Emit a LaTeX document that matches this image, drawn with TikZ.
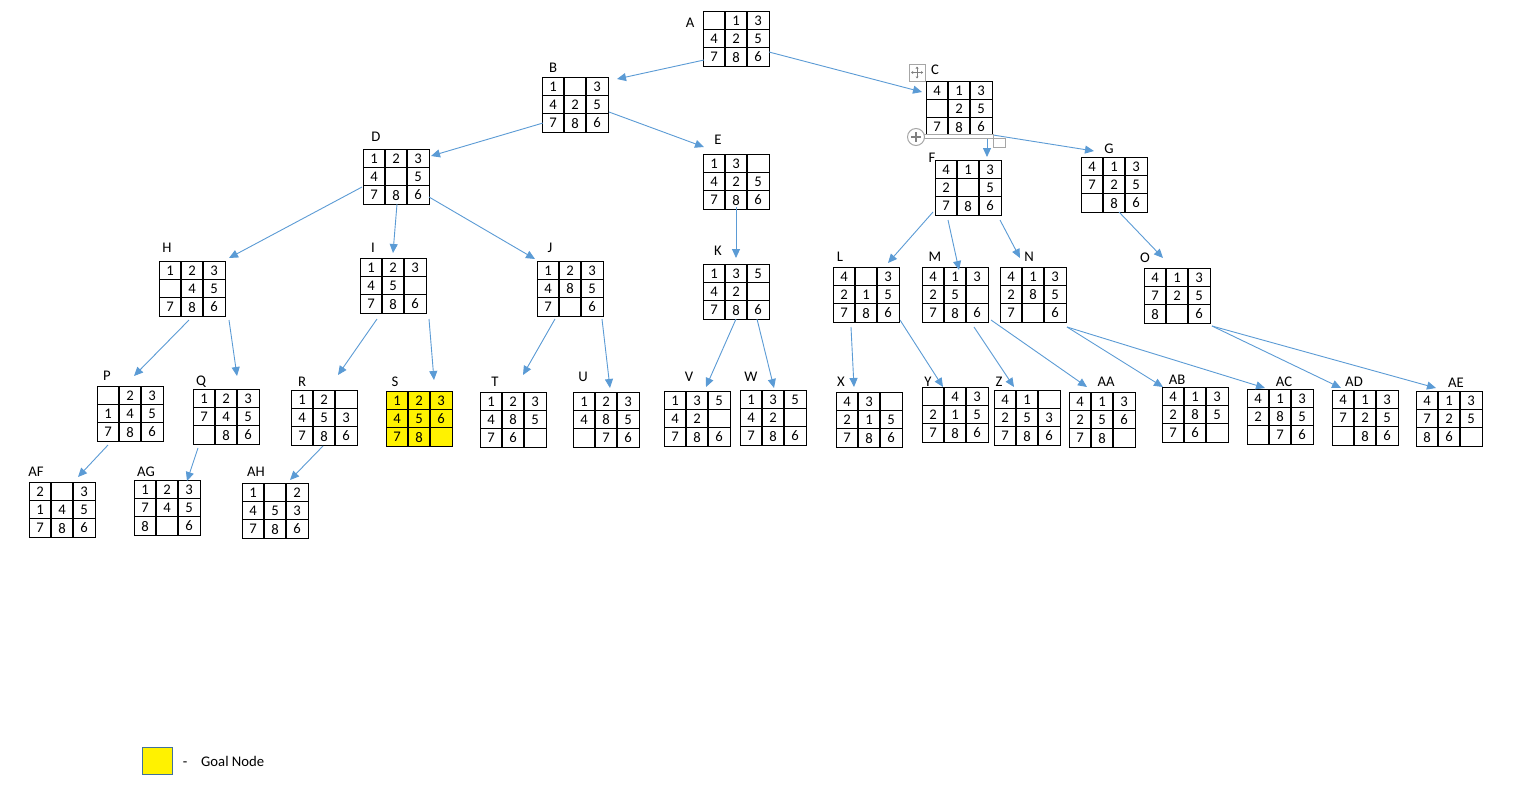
\documentclass[tikz,border=0pt]{standalone}
\usepackage{fontspec}
\setmainfont{Carlito}
\usetikzlibrary{calc,arrows.meta}
\definecolor{arrowblue}{HTML}{5B9BD5}
\definecolor{legborder}{HTML}{41719C}
\tikzset{
  puzbox/.style={draw=black, line width=1.1pt, anchor=north west, minimum width=66pt, minimum height=55pt, inner sep=0pt},
  gridl/.style={draw=black, line width=1.1pt},
  cell/.style={inner sep=0pt, font=\fontsize{14.7}{16}\selectfont},
  lab/.style={inner sep=0pt, font=\fontsize{14.7}{16}\selectfont},
  arrowl/.style={draw=arrowblue, line width=0.9pt, -{Triangle[length=9pt,width=8pt]}},
  uigray/.style={draw=gray!70, line width=1pt}
}
\newcommand\puz[7]{%
  \node[puzbox, fill=#5] (#1) at (#2,#3) {};
  \node[lab] (#1-lab) at (#6,#7) {#1};
  \foreach \v [count=\k from 0] in {#4} {
    \pgfmathtruncatemacro\cc{mod(\k,3)}
    \pgfmathtruncatemacro\rr{(\k-\cc)/3}
    \node[cell] (#1-c\k) at ($(#1.north west)+(11+22*\cc,9.4+18.33*\rr)$) {\v};
  }
  \draw[gridl] ($(#1.north west)+(22,0)$) -- ($(#1.south west)+(22,0)$);
  \draw[gridl] ($(#1.north west)+(44,0)$) -- ($(#1.south west)+(44,0)$);
  \draw[gridl] ($(#1.north west)+(0,18.33)$) -- ($(#1.north east)+(0,18.33)$);
  \draw[gridl] ($(#1.north west)+(0,36.67)$) -- ($(#1.north east)+(0,36.67)$);
}
\newcommand\arr[6]{\draw[arrowl] ($(#1.north west)+(#2,#3)$) -- ($(#4.north west)+(#5,#6)$);}
\begin{document}
\begin{tikzpicture}[x=1pt,y=-1pt]
\useasboundingbox[fill=white] (0,0) rectangle (1513,788);
% level 0-1
\puz{A}{703}{11}{{},1,3,4,2,5,7,8,6}{white}{690}{23}
\puz{B}{542}{77}{1,{},3,4,2,5,7,8,6}{white}{553}{68}
\puz{C}{926}{81}{4,1,3,{},2,5,7,8,6}{white}{935}{70}
% level 2
\puz{D}{363}{149}{1,2,3,4,{},5,7,8,6}{white}{376}{137}
\puz{E}{703}{154}{1,3,{},4,2,5,7,8,6}{white}{718}{140}
\puz{F}{935}{160}{4,1,3,2,{},5,7,8,6}{white}{932}{158}
\puz{G}{1081}{157}{4,1,3,7,2,5,{},8,6}{white}{1109}{149}
% level 3
\puz{H}{159}{261}{1,2,3,{},4,5,7,8,6}{white}{167}{248}
\puz{I}{360}{258}{1,2,3,4,5,{},7,8,6}{white}{373}{248}
\puz{J}{537}{261}{1,2,3,4,8,5,7,{},6}{white}{550}{248}
\puz{K}{703}{264}{1,3,5,4,2,{},7,8,6}{white}{718}{251}
\puz{L}{833}{267}{4,{},3,2,1,5,7,8,6}{white}{840}{257}
\puz{M}{922}{267}{4,1,3,2,5,{},7,8,6}{white}{935}{257}
\puz{N}{1000}{267}{4,1,3,2,8,5,7,{},6}{white}{1029}{257}
\puz{O}{1144}{268}{4,1,3,7,2,5,8,{},6}{white}{1145}{258}
% level 4
\puz{P}{97}{386}{{},2,3,1,4,5,7,8,6}{white}{107}{376}
\puz{Q}{193}{389}{1,2,3,7,4,5,{},8,6}{white}{201}{382}
\puz{R}{291}{390}{1,2,{},4,5,3,7,8,6}{white}{302}{382}
\puz{S}{386}{391}{1,2,3,4,5,6,7,8,{}}{yellow}{395}{382}
\puz{T}{480}{392}{1,2,3,4,8,5,7,6,{}}{white}{495}{382}
\puz{U}{573}{392}{1,2,3,4,8,5,{},7,6}{white}{583}{377}
\puz{V}{664}{391}{1,3,5,4,2,{},7,8,6}{white}{689}{377}
\puz{W}{740}{390}{1,3,5,4,2,{},7,8,6}{white}{751}{377}
\puz{X}{836}{392}{4,3,{},2,1,5,7,8,6}{white}{841}{382}
\puz{Y}{922}{387}{{},4,3,2,1,5,7,8,6}{white}{928}{382}
\puz{Z}{994}{390}{4,1,{},2,5,3,7,8,6}{white}{999}{382}
\puz{AA}{1069}{392}{4,1,3,2,5,6,7,8,{}}{white}{1106}{382}
\puz{AB}{1162}{387}{4,1,3,2,8,5,7,6,{}}{white}{1177}{380}
\puz{AC}{1247}{389}{4,1,3,2,8,5,{},7,6}{white}{1284}{382}
\puz{AD}{1332}{390}{4,1,3,7,2,5,{},8,6}{white}{1354}{382}
\puz{AE}{1416}{391}{4,1,3,7,2,5,8,6,{}}{white}{1456}{383}
% level 5
\puz{AF}{29}{482}{2,{},3,1,4,5,7,8,6}{white}{36}{472}
\puz{AG}{134}{480}{1,2,3,7,4,5,8,{},6}{white}{146}{472}
\puz{AH}{242}{483}{1,{},2,4,5,3,7,8,6}{white}{256}{472}
% connectors
\arr{A}{1}{49}{B}{75}{2}
\arr{A}{66}{41}{C}{-4}{11}
\arr{B}{1}{46}{D}{68}{7}
\arr{B}{67}{35}{E}{1}{-7}
\arr{C}{61}{54}{F}{52}{-3}
\arr{C}{67}{54}{G}{13}{-6}
\arr{E}{33}{53}{K}{33}{-6}
\arr{D}{-1}{38}{H}{70}{-3}
\arr{D}{34}{55}{I}{33}{-5}
\arr{D}{66}{48}{J}{-2}{-2}
\arr{H}{30}{59}{P}{37}{-10}
\arr{H}{70}{59}{Q}{44}{-13}
\arr{I}{17}{61}{R}{47}{-15}
\arr{I}{69}{61}{S}{48}{-11}
\arr{J}{18}{58}{T}{43}{-17}
\arr{J}{65}{58}{U}{37}{-4}
\arr{P}{11}{59}{AF}{49}{-5}
\arr{Q}{5}{59}{AG}{53}{1}
\arr{R}{32}{56}{AH}{48}{-3}
\arr{K}{33}{55}{V}{42}{-4}
\arr{K}{54}{55}{W}{34}{-2}
\arr{F}{-2}{52}{L}{55}{-4}
\arr{F}{13}{60}{M}{37}{3}
\arr{F}{65}{60}{N}{20}{-9}
\arr{G}{38}{55}{O}{19}{-10}
\arr{L}{18}{60}{X}{18}{-5}
\arr{L}{67}{53}{Y}{21}{0}
\arr{M}{52}{60}{Z}{20}{-3}
\arr{M}{69}{53}{AA}{18}{-5}
\arr{N}{67}{60}{AB}{1}{0}
\arr{N}{67}{60}{AC}{18}{-1}
\arr{O}{68}{58}{AD}{9}{-2}
\arr{O}{68}{58}{AE}{20}{-3}
% table UI marks near C
\draw[uigray, fill=white] (909,64) rectangle (925,81);
\draw[gray, line width=0.7pt] (911.5,72.5) -- (922.5,72.5) (917,67) -- (917,78);
\fill[gray] (911,72.5) -- (913,71) -- (913,74) -- cycle;
\fill[gray] (923,72.5) -- (921,71) -- (921,74) -- cycle;
\fill[gray] (917,66.5) -- (915.5,68.5) -- (918.5,68.5) -- cycle;
\fill[gray] (917,78.5) -- (915.5,76.5) -- (918.5,76.5) -- cycle;
\draw[uigray, fill=white] (923,134.5) rectangle (993,138.5);
\draw[uigray, fill=white] (993,138) rectangle (1005,147);
\draw[uigray, fill=white] (916,137) circle (8.5);
\draw[gray, line width=1.3pt] (911,137) -- (921,137) (916,132) -- (916,142);
% legend
\node[draw=legborder, fill=yellow, line width=0.9pt, minimum width=30pt, minimum height=27pt, inner sep=0pt, anchor=north west] (legbox) at (142,747) {};
\node[lab, anchor=base] (legdash) at (185,766) {-};
\node[lab, anchor=base west] (legtext) at (201,766) {Goal Node};
\end{tikzpicture}
\end{document}
